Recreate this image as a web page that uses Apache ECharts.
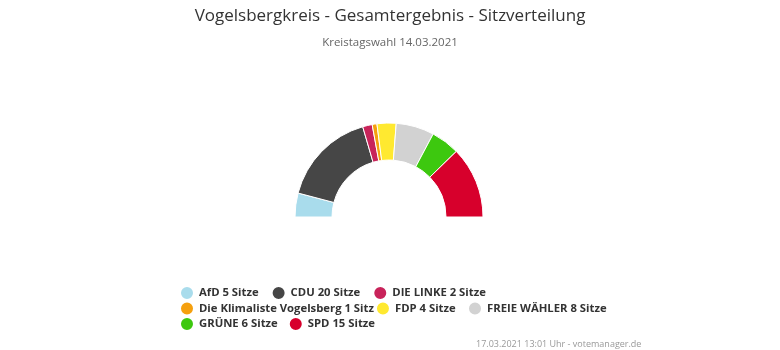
<!DOCTYPE html>
<html>
<head>
<meta charset="utf-8">
<script src="https://cdn.jsdelivr.net/npm/echarts@6/dist/echarts.min.js"></script>
<style>
  html, body { margin: 0; padding: 0; background: #fff; }
  #chart { width: 780px; height: 350px; }
</style>
</head>
<body>
<div id="chart"></div>
<script>
// Parteien und Sitze
const parties = ['AfD', 'CDU', 'DIE LINKE', 'Die Klimaliste Vogelsberg', 'FDP', 'FREIE WÄHLER', 'GRÜNE', 'SPD']
const seats = [5, 20, 2, 1, 4, 8, 6, 15]
const colors = ['#a9dcec', '#464646', '#c8235a', '#f5a00f', '#ffe930', '#d2d2d2', '#3dc80f', '#d7002c']
// Legendengruppen wie im Original (Zeile, linker Rand, Abstand)
const legendGroups = [
  { names: ['AfD', 'CDU', 'DIE LINKE'], row: 0, left: 179, gap: 12 },
  { names: ['Die Klimaliste Vogelsberg', 'FDP'], row: 1, left: 179, gap: 1 },
  { names: ['FREIE WÄHLER'], row: 1, left: 467, gap: 12 },
  { names: ['GRÜNE', 'SPD'], row: 2, left: 179, gap: 10 },
]

const font = '"Open Sans", "DejaVu Sans", sans-serif'

const chart = echarts.init(document.getElementById('chart'))

const seatLabel = (name) => {
  const n = seats[parties.indexOf(name)]
  return name + ' ' + n + (n === 1 ? ' Sitz' : ' Sitze')
}

const rowTops = [285, 300.5, 316]
const legends = legendGroups.map((g) => ({
  left: g.left,
  top: rowTops[g.row],
  padding: 0,
  icon: 'circle',
  itemWidth: 14,
  itemHeight: 14,
  itemGap: g.gap,
  formatter: seatLabel,
  data: g.names,
  textStyle: {
    fontFamily: font,
    fontSize: 11.3,
    fontWeight: 'bold',
    color: '#333',
  },
}))

chart.setOption({
  animation: false,
  title: [
    {
      text: 'Vogelsbergkreis - Gesamtergebnis - Sitzverteilung',
      subtext: 'Kreistagswahl 14.03.2021',
      left: 'center',
      top: 3,
      itemGap: 12,
      textStyle: { fontFamily: font, fontSize: 17, fontWeight: 'normal', color: '#333' },
      subtextStyle: { fontFamily: font, fontSize: 11.5, color: '#666' },
    },
    {
      text: '17.03.2021 13:01 Uhr - votemanager.de',
      left: 471,
      top: 335,
      textStyle: { fontFamily: font, fontSize: 9, fontWeight: 'normal', color: '#999' },
    },
  ],
  legend: legends,
  series: [
    {
      type: 'pie',
      center: [389, 217],
      radius: [57, 94],
      startAngle: 180,
      endAngle: 0,
      clockwise: true,
      label: { show: false },
      labelLine: { show: false },
      itemStyle: { borderColor: '#fff', borderWidth: 1 },
      data: parties.map((p, i) => ({
        name: p,
        value: seats[i],
        itemStyle: { color: colors[i] },
      })),
    },
  ],
})
</script>
</body>
</html>
